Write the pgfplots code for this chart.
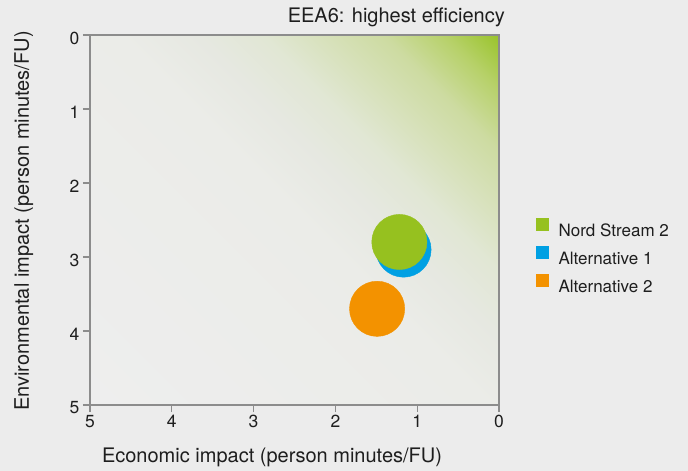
\documentclass[border=0pt]{standalone}
\usepackage{pgfplots}
\pgfplotsset{compat=1.18}
\usepackage{fontspec}
\setmainfont{TeX Gyre Heros}

\definecolor{bggray}{HTML}{ECECEC}
\definecolor{axgray}{HTML}{8C8C8C}
\definecolor{txt}{HTML}{1E1E1E}
\definecolor{nsgreen}{HTML}{96C11F}
\definecolor{altblue}{HTML}{00A0E3}
\definecolor{altorange}{HTML}{F39200}
% gradient stops, lower left -> upper right
\definecolor{shA}{HTML}{EEEEEE}
\definecolor{shB}{HTML}{EBECE8}
\definecolor{shB2}{HTML}{E6E8E1}
\definecolor{shC}{HTML}{E1E7D4}
\definecolor{shD}{HTML}{CDDBA1}
\definecolor{shD2}{HTML}{B7D16A}
\definecolor{shE}{HTML}{9AC42C}

\pgfdeclarehorizontalshading{eea}{100bp}{
  color(0bp)=(shA); color(14.6bp)=(shA); color(51bp)=(shB);
  color(58bp)=(shB2); color(64bp)=(shC); color(75bp)=(shD);
  color(80.5bp)=(shD2); color(85.4bp)=(shE); color(100bp)=(shE)}

\newcommand{\labfont}{\fontsize{20bp}{24bp}\selectfont}
\newcommand{\tickfont}{\fontsize{17.5bp}{20bp}\selectfont}
\newcommand{\legfont}{\fontsize{17bp}{20bp}\selectfont}

\begin{document}
\begin{tikzpicture}
\fill[bggray] (0,0) rectangle (688bp,471bp);
\begin{axis}[
  name=ax,
  at={(90bp,66bp)}, anchor=south west,
  scale only axis, width=409bp, height=370bp,
  xmin=0, xmax=5, ymin=0, ymax=5,
  x dir=reverse, y dir=reverse,
  xtick={0,...,5}, ytick={0,...,5},
  tick align=outside, xtick pos=bottom, ytick pos=left,
  major tick length=7bp,
  axis line style={axgray, line width=1.3bp},
  tick style={axgray, line width=1.3bp},
  axis background/.style={shade, shading=eea, shading angle=45},
  font=\labfont,
  ticklabel style={font=\tickfont, text=txt},
  yticklabel style={yshift=-3bp},
  /pgf/number format/assume math mode=true,
  xlabel={Economic impact (person minutes/FU)},
  xlabel style={at={(axis description cs:0.445,-0.1405)}, anchor=center,
    text=txt, font=\labfont},
  ylabel={Environmental impact (person minutes/FU)},
  ylabel style={at={(axis description cs:-0.162,0.497)}, anchor=center,
    rotate=0, text=txt, font=\labfont},
  legend style={draw=none, fill=none, inner sep=0pt,
    at={(axis description cs:1,0.405)}, anchor=west, xshift=37bp,
    font=\legfont, text=txt, row sep=10bp,
    nodes={inner sep=0pt, text height=12bp, text depth=0bp},
    /tikz/every odd column/.append style={column sep=10bp}},
  legend cell align=left,
]
% circles: blue first so that green lies on top
\addplot[only marks, mark=*, mark size=27.6bp, color=altblue, forget plot]
  coordinates {(1.167,2.90)};
\addplot[only marks, mark=*, mark size=27.6bp, color=nsgreen, forget plot]
  coordinates {(1.218,2.797)};
\addplot[only marks, mark=*, mark size=27.6bp, color=altorange, forget plot]
  coordinates {(1.490,3.700)};

\addlegendimage{legend image code/.code={\fill[nsgreen] (0bp,0bp) rectangle (12bp,12bp);}}
\addlegendentry{Nord Stream 2}
\addlegendimage{legend image code/.code={\fill[altblue] (0bp,0bp) rectangle (12bp,12bp);}}
\addlegendentry{Alternative 1}
\addlegendimage{legend image code/.code={\fill[altorange] (0bp,0bp) rectangle (12bp,12bp);}}
\addlegendentry{Alternative 2}
\end{axis}
% chart title, right-aligned above the plot area
\node[anchor=base east, inner sep=0pt, text=txt, font=\labfont,
  xshift=6bp, yshift=12.3bp] at (ax.north east) {EEA6: highest efficiency};
\end{tikzpicture}
\end{document}
